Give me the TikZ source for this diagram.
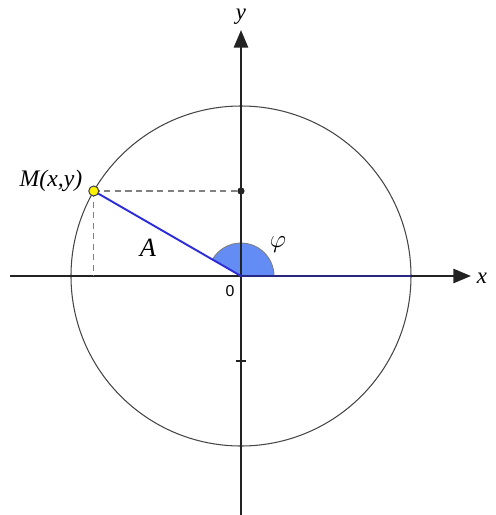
\documentclass[tikz,border=0pt]{standalone}
\usepackage{fontspec}
\setmainfont{Liberation Serif}
\newfontfamily\zerofont{Liberation Sans}
\usetikzlibrary{arrows.meta}
\definecolor{radblue}{RGB}{45,45,215}
\definecolor{navyline}{RGB}{40,40,130}
\definecolor{sector}{RGB}{100,140,245}
\definecolor{circgray}{RGB}{70,70,70}
\definecolor{axisgray}{RGB}{35,35,35}
\tikzset{
  axis/.style={line width=1.4pt, axisgray, -{Triangle[length=10pt,width=8pt]}},
  radius line/.style={line width=1.1pt, radblue},
  helper/.style={line width=0.8pt, gray, dash pattern=on 3.5pt off 2.5pt},
  lbl/.style={font=\itshape\fontsize{13}{15}\selectfont, inner sep=0pt}
}
\begin{document}
\begin{tikzpicture}[x=0.02cm,y=0.02cm]
\useasboundingbox (-241,-239) rectangle (254,276);
% circle
\draw[circgray, line width=0.6pt] (0,0) circle (170);
% sector
\filldraw[fill=sector, draw=gray, line width=0.5pt] (0,0) -- (33,0) arc (0:150:33) -- cycle;
% axes
\coordinate (O) at (0,0);
\coordinate (xs) at (-231,0);
\coordinate (xe) at (230,0);
\coordinate (ys) at (0,-239);
\coordinate (ye) at (0,246);
\draw[axis] (xs) -- (xe);
\draw[axis] (ys) -- (ye);
\node[lbl] (xl) at (241,-2) {x};
\node[lbl] (yl) at (0,259) {y};
% ticks
\draw[line width=0.9pt, axisgray] (-5,-85) -- (5,-85);
\fill[axisgray] (0,85) circle (3.6);
% point M
\coordinate (M) at (150:170);
\coordinate (My) at (0,85);
\coordinate (Mx) at ({170*cos(150)},0);
\draw[helper] (M) -- (My);
\draw[helper] (M) -- (Mx);
\coordinate (R) at (170,0);
\draw[line width=1.1pt, navyline] (O) -- (R);
\draw[radius line] (O) -- (M);
\filldraw[fill=yellow, draw=circgray, line width=0.6pt] (M) circle (5);
% labels
\node[lbl, font=\itshape\fontsize{13.5}{15}\selectfont] (ML) at (-190,95) {M(x,y)};
\node[lbl, font=\itshape\fontsize{15}{17}\selectfont] (AL) at (-93,28) {A};
\node[lbl, font=\fontsize{14}{16}\selectfont] (phi) at (37,31) {$\varphi$};
\node[font=\zerofont\fontsize{9}{10}\selectfont, inner sep=0pt] (zero) at (-11,-15) {0};
\end{tikzpicture}
\end{document}
